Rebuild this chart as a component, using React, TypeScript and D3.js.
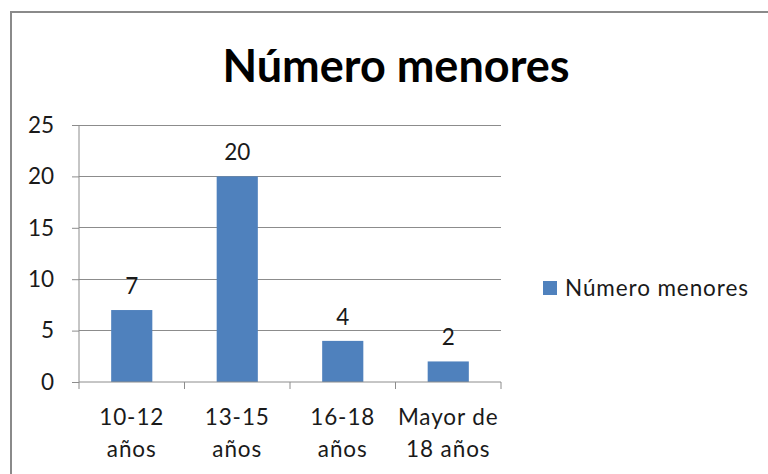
import React, { useRef, useEffect } from 'react';
import * as d3 from 'd3';

const categories = ['10-12|años', '13-15|años', '16-18|años', 'Mayor de|18 años'];
const values = [7, 20, 4, 2];
const yTicks = [0, 5, 10, 15, 20, 25];
const seriesName = 'Número menores';
const title = 'Número menores';

const App = () => {
  const svgRef = useRef<SVGSVGElement>(null);
  useEffect(() => {
    const svg = d3.select(svgRef.current);
    svg.selectAll('*').remove();
    const font = 'Lato, "Open Sans", sans-serif';
    const color = '#4f81bd';
    const fs = '22.5px';
    const ls = '0.9px';

    svg.append('rect')
      .attr('x', 11).attr('y', 12)
      .attr('width', 800).attr('height', 500)
      .attr('fill', 'white')
      .attr('stroke', '#8a8a8a').attr('stroke-width', 2);

    svg.append('text')
      .attr('x', 396).attr('y', 82)
      .attr('text-anchor', 'middle')
      .style('font-family', font)
      .style('font-weight', 'bold')
      .style('font-size', '45px')
      .attr('fill', '#000')
      .text(title);

    const x = d3.scaleBand().domain(categories).range([79, 501]).padding(0);
    const y = d3.scaleLinear().domain([0, 25]).range([382, 125]);
    const barW = x.bandwidth() * 0.39;

    // gridlines
    svg.append('g').selectAll('line')
      .data(yTicks.slice(1))
      .join('line')
      .attr('x1', 79).attr('x2', 501)
      .attr('y1', d => y(d)).attr('y2', d => y(d))
      .attr('stroke', '#8c8c8c').attr('stroke-width', 1)
      .attr('shape-rendering', 'crispEdges');

    // bars
    svg.append('g').selectAll('rect')
      .data(values)
      .join('rect')
      .attr('x', (d, i) => x(categories[i])! + (x.bandwidth() - barW) / 2)
      .attr('width', barW)
      .attr('y', d => y(d))
      .attr('height', d => y(0) - y(d))
      .attr('fill', color);

    // value labels
    svg.append('g').selectAll('text')
      .data(values)
      .join('text')
      .attr('x', (d, i) => x(categories[i])! + x.bandwidth() / 2)
      .attr('y', d => y(d) - 16)
      .attr('text-anchor', 'middle')
      .style('font-family', font)
      .style('font-size', fs)
      .attr('fill', '#1a1a1a')
      .text(d => d);

    // y axis
    const yAxis = svg.append('g')
      .attr('transform', 'translate(79,0)')
      .call(d3.axisLeft(y).tickValues(yTicks).tickSize(7).tickPadding(18));
    yAxis.select('.domain').attr('stroke', '#8c8c8c').attr('d', 'M0,125V382');
    yAxis.selectAll('line').attr('stroke', '#8c8c8c');
    yAxis.selectAll('text')
      .style('font-family', font).style('font-size', fs).attr('fill', '#1a1a1a');

    // x axis
    const xAxis = svg.append('g')
      .attr('transform', 'translate(0,382)')
      .call(d3.axisBottom(x).tickSize(0).tickFormat(() => ''));
    xAxis.select('.domain').attr('stroke', '#8c8c8c').attr('d', 'M79,0H501');
    xAxis.selectAll('.tick').remove();
    xAxis.selectAll('line.sep')
      .data(d3.range(categories.length + 1))
      .join('line')
      .attr('class', 'sep')
      .attr('x1', i => 79 + i * x.step()).attr('x2', i => 79 + i * x.step())
      .attr('y1', 0).attr('y2', 7)
      .attr('stroke', '#8c8c8c');

    const labels = svg.append('g').selectAll('text')
      .data(categories)
      .join('text')
      .attr('x', d => x(d)! + x.bandwidth() / 2)
      .attr('y', 425)
      .attr('text-anchor', 'middle')
      .style('font-family', font)
      .style('font-size', fs)
      .style('letter-spacing', ls)
      .attr('fill', '#1a1a1a');
    labels.selectAll('tspan')
      .data(d => d.split('|'))
      .join('tspan')
      .attr('x', function () { return (this.parentNode as SVGTextElement).getAttribute('x'); })
      .attr('dy', (d, i) => (i === 0 ? 0 : 32))
      .text(d => d);

    // legend
    svg.append('rect')
      .attr('x', 543).attr('y', 281).attr('width', 14).attr('height', 14)
      .attr('fill', color);
    svg.append('text')
      .attr('x', 565).attr('y', 296)
      .style('font-family', font)
      .style('font-size', fs)
      .style('letter-spacing', ls)
      .attr('fill', '#1a1a1a')
      .text(seriesName);
  }, []);
  return (
    <svg ref={svgRef} width={768} height={474}
      style={{ position: 'absolute', left: 0, top: 0 }} />
  );
};

export default App;
